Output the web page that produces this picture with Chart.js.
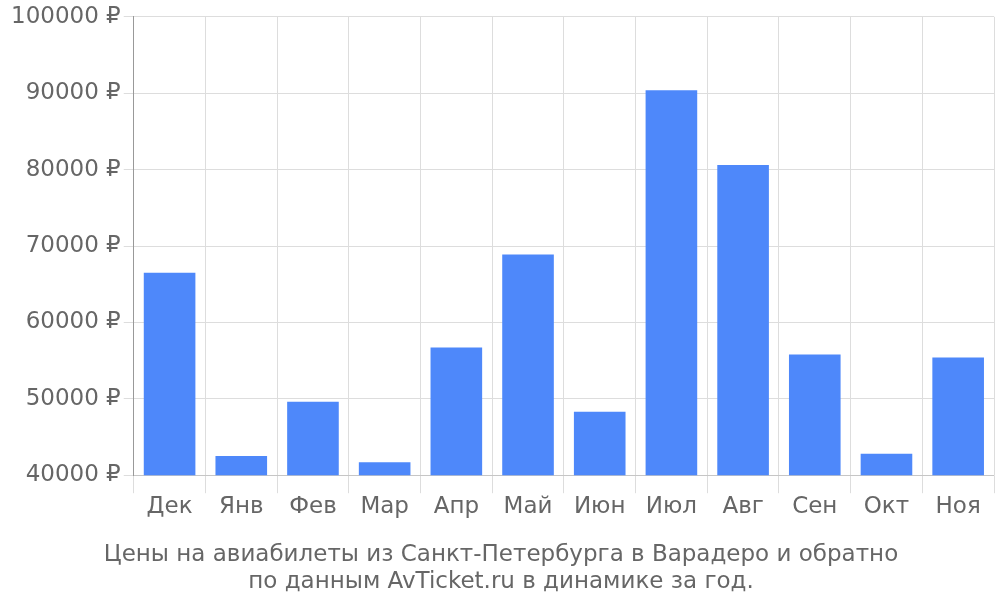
<!DOCTYPE html>
<html>
<head>
<meta charset="utf-8">
<script src="https://cdn.jsdelivr.net/npm/chart.js@4"></script>
<style>body{margin:0;background:#fff}</style>
</head>
<body>
<canvas id="c" width="1000" height="600"></canvas>
<script>
const months = ["Дек", "Янв", "Фев", "Мар", "Апр", "Май", "Июн", "Июл", "Авг", "Сен", "Окт", "Ноя"];
const prices = [66500, 42500, 49600, 41700, 56700, 68900, 48300, 90400, 80600, 55800, 42800, 55400];
const caption = ["Цены на авиабилеты из Санкт-Петербурга в Варадеро и обратно", "по данным AvTicket.ru в динамике за год."];

Chart.defaults.font.family = "DejaVu Sans";
Chart.defaults.color = "#666";

new Chart(document.getElementById("c"), {
  type: "bar",
  data: {
    labels: months,
    datasets: [{ data: prices, backgroundColor: "#4e88fa", categoryPercentage: 0.72, barPercentage: 1 }]
  },
  options: {
    responsive: false,
    animation: false,
    layout: { padding: { top: 4, right: 6, bottom: 4, left: 8 } },
    plugins: {
      legend: { display: false },
      tooltip: { enabled: false },
      title: {
        display: true, position: "bottom", text: caption, color: "#666",
        font: { size: 23, weight: "normal", lineHeight: 1.2 }, padding: { top: 20, bottom: 0 }
      }
    },
    scales: {
      x: {
        grid: { color: "#ddd", tickLength: 18, offset: true },
        ticks: { font: { size: 23 }, padding: 0 }
      },
      y: {
        min: 40000,
        max: 100000,
        border: { color: "#999" },
        grid: { color: "#ddd", tickLength: 10 },
        ticks: { stepSize: 10000, font: { size: 23 }, callback: v => v + " ₽" }
      }
    }
  }
});
</script>
</body>
</html>
